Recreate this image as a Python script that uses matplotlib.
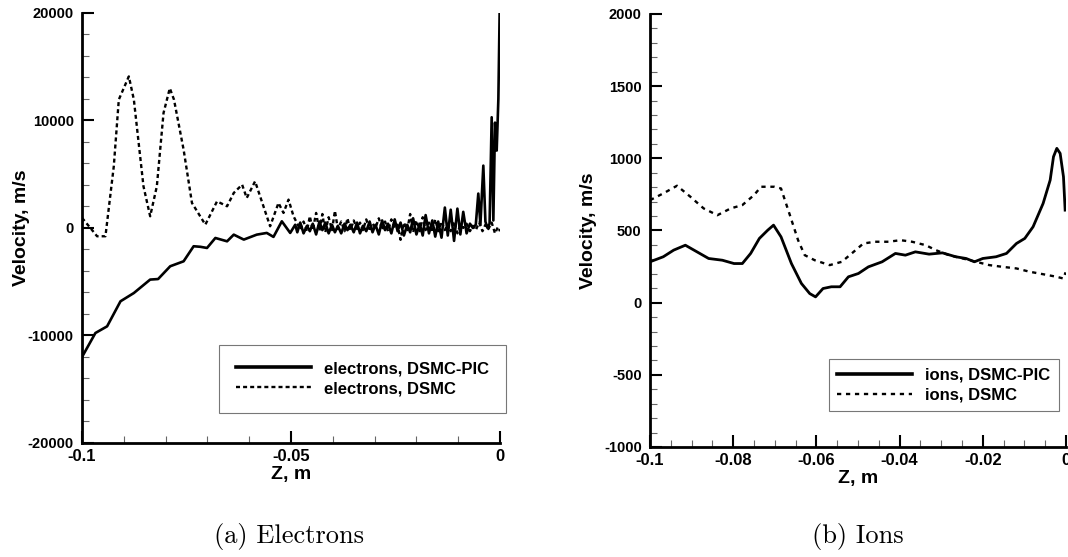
import numpy as np
import matplotlib
matplotlib.use("Agg")
import matplotlib.pyplot as plt
from matplotlib.ticker import MultipleLocator

plt.rcParams["font.family"] = ["Liberation Sans", "DejaVu Sans"]
plt.rcParams["font.weight"] = "bold"

# ---- electrons, DSMC-PIC (solid) ----
z_e_pic = [-0.1, -0.0968, -0.094, -0.0908, -0.0876, -0.0837, -0.0818, -0.0789,
           -0.0757, -0.0733, -0.0717, -0.0701, -0.0681, -0.0653, -0.0637, -0.0613,
           -0.0582, -0.0558, -0.0542, -0.0522, -0.0502,
           -0.0490, -0.0485, -0.0478, -0.0470, -0.0462, -0.0455, -0.0448, -0.0440,
           -0.0432, -0.0425, -0.0418, -0.0410, -0.0402, -0.0395, -0.0388, -0.0380,
           -0.0372, -0.0365, -0.0358, -0.0350, -0.0342, -0.0335, -0.0328, -0.0320,
           -0.0312, -0.0305, -0.0298, -0.0290, -0.0282, -0.0275, -0.0268, -0.0260,
           -0.0252, -0.0245, -0.0238, -0.0230, -0.0222, -0.0215, -0.0208, -0.0200,
           -0.0192, -0.0185, -0.0178, -0.0170, -0.0162, -0.0155, -0.0148, -0.0140,
           -0.0132, -0.0125, -0.0118, -0.0110, -0.0102, -0.0095, -0.0088, -0.0080,
           -0.0072, -0.0065, -0.0058, -0.0052, -0.0047, -0.0040, -0.0035, -0.0030,
           -0.0025, -0.0020, -0.0016, -0.0012, -0.0008, -0.0004, -0.0001]
v_e_pic = [-12000, -9770, -9150, -6820, -6050, -4800, -4750, -3560,
           -3100, -1700, -1750, -1860, -930, -1240, -620, -1080,
           -620, -460, -830, 620, -460,
           300, -400, 500, -500, 200, -300, 400, -600,
           600, -200, 500, -500, 300, -400, 200, -500,
           400, -200, 300, -400, 500, -500, 200, -300,
           600, -400, 300, -600, 700, -200, 400, -500,
           800, -300, 500, -700, 300, -400, 900, -600,
           400, -700, 1200, -500, 700, -800, 600, -900,
           1900, -700, 1700, -1200, 1800, -600, 1500, -500,
           400, 0, 300, 3200, 300, 5800, 600, 0,
           400, 10300, 700, 9800, 7200, 12000, 20000]

# ---- electrons, DSMC (dashed) ----
z_e_dsmc = [-0.1, -0.098, -0.0964, -0.0944, -0.0924, -0.0912, -0.0888, -0.0876,
            -0.0853, -0.0837, -0.0821, -0.0805, -0.079, -0.078, -0.0757, -0.0737,
            -0.0705, -0.0677, -0.0653, -0.0637, -0.0617, -0.0606, -0.0586, -0.0566,
            -0.055, -0.053, -0.0518, -0.0506, -0.0494, -0.0478,
            -0.0470, -0.0462, -0.0455, -0.0448, -0.0440, -0.0432, -0.0425, -0.0418,
            -0.0410, -0.0402, -0.0395, -0.0388, -0.0380, -0.0372, -0.0365, -0.0358,
            -0.0350, -0.0342, -0.0335, -0.0328, -0.0320, -0.0312, -0.0305, -0.0298,
            -0.0290, -0.0282, -0.0275, -0.0268, -0.0260, -0.0252, -0.0245, -0.0238,
            -0.0230, -0.0222, -0.0215, -0.0208, -0.0200, -0.0192, -0.0185, -0.0178,
            -0.0170, -0.0162, -0.0155, -0.0148, -0.0140, -0.0132, -0.0125, -0.0118,
            -0.0110, -0.0102, -0.0095, -0.0088, -0.0080, -0.0072, -0.0065, -0.0058,
            -0.0050, -0.0042, -0.0035, -0.0028, -0.0020, -0.0012, -0.0005, 0.0]
v_e_dsmc = [940, 0, -770, -770, 5740, 11940, 14100, 11940,
            3880, 1090, 3880, 10700, 13000, 11940, 7290, 2330,
            310, 2480, 2020, 3260, 4030, 2790, 4340, 2020,
            160, 2330, 1400, 2640, 1090, -150,
            600, -300, 1100, -200, 1400, -300, 1300, -400,
            1000, -200, 1600, -100, 600, -300, 900, -200,
            700, -100, 500, -200, 800, -300, 400, 0,
            900, -200, 600, -300, 800, 0, 300, -1100,
            500, -200, 1300, -400, 700, -300, 1000, -200,
            500, -400, 800, -300, 600, -200, 400, -300,
            600, -500, 300, 0, 400, -300, 200, -200,
            500, -300, 300, -100, 500, -500, 100, -300]

# ---- ions, DSMC-PIC (solid) ----
z_i_pic = [-0.1, -0.0968, -0.0943, -0.0915, -0.0887, -0.0859, -0.0826, -0.0798,
           -0.0778, -0.0758, -0.0737, -0.0717, -0.0703, -0.0685, -0.066, -0.0636,
           -0.0616, -0.0602, -0.0584, -0.0564, -0.0543, -0.0523, -0.0499, -0.0475,
           -0.0442, -0.041, -0.0386, -0.0362, -0.0329, -0.0297, -0.0265, -0.024,
           -0.022, -0.02, -0.0168, -0.0143, -0.0119, -0.0099, -0.0079, -0.0055,
           -0.0038, -0.003, -0.0022, -0.0014, -0.0006, -0.0002]
v_i_pic = [283, 318, 364, 398, 352, 306, 294, 271,
           271, 341, 445, 502, 537, 456, 271, 133,
           63, 40, 98, 110, 110, 179, 202, 248,
           283, 341, 329, 352, 336, 345, 318, 306,
           283, 306, 318, 341, 410, 445, 526, 687,
           849, 1011, 1069, 1034, 872, 641]

# ---- ions, DSMC (dashed) ----
z_i_dsmc = [-0.1, -0.0968, -0.0935, -0.0903, -0.0871, -0.0838, -0.0806, -0.0778,
            -0.075, -0.0733, -0.0701, -0.0685, -0.0665, -0.0644, -0.0628, -0.0604,
            -0.0568, -0.0539, -0.0515, -0.0487, -0.0459, -0.0426, -0.0398, -0.037,
            -0.0337, -0.0313, -0.0281, -0.0248, -0.0216, -0.0184, -0.0152, -0.0119,
            -0.0087, -0.0055, -0.0022, -0.0006, -0.0001]
v_i_dsmc = [710, 757, 810, 734, 653, 606, 653, 676,
            745, 803, 803, 791, 618, 433, 329, 294,
            260, 283, 341, 410, 422, 422, 433, 422,
            398, 364, 329, 306, 283, 260, 248, 237,
            214, 197, 179, 167, 210]

fig = plt.figure(figsize=(10.68, 5.57), dpi=100)
ax1 = fig.add_axes([0.0768, 0.2047, 0.3914, 0.772])
ax2 = fig.add_axes([0.6086, 0.1975, 0.3895, 0.7774])


def style_axes(ax, ylab_x):
    for s in ("top", "right"):
        ax.spines[s].set_visible(False)
    for s in ("left", "bottom"):
        ax.spines[s].set_linewidth(2.0)
    ax.tick_params(which="major", direction="in", length=8.5, width=1.5,
                   top=False, right=False)
    ax.tick_params(which="minor", direction="in", length=5, width=0.8,
                   color="#666666", top=False, right=False)
    ax.tick_params(axis="y", which="major", labelsize=10.5, pad=6)
    ax.tick_params(axis="x", which="major", labelsize=12, pad=4)
    for lab in ax.get_xticklabels() + ax.get_yticklabels():
        lab.set_fontweight("bold")
    ax.set_xlabel("Z, m", fontsize=14, fontweight="bold", labelpad=2)
    ax.set_ylabel("Velocity, m/s", fontsize=14, fontweight="bold")
    ax.yaxis.set_label_coords(ylab_x, 0.5)


# (a) electrons
ax1.plot(z_e_pic, v_e_pic, color="black", lw=1.9,
         label="electrons, DSMC-PIC")
ax1.plot(z_e_dsmc, v_e_dsmc, color="black", lw=1.7, dashes=(1.7, 1.3),
         label="electrons, DSMC")
ax1.set_xlim(-0.1, 0)
ax1.set_ylim(-20000, 20000)
ax1.xaxis.set_major_locator(MultipleLocator(0.05))
ax1.xaxis.set_minor_locator(MultipleLocator(0.01))
ax1.yaxis.set_major_locator(MultipleLocator(10000))
ax1.yaxis.set_minor_locator(MultipleLocator(2000))
ax1.set_xticks([-0.1, -0.05, 0])
ax1.set_xticklabels(["-0.1", "-0.05", "0"])
ax1.set_yticks([-20000, -10000, 0, 10000, 20000])
ax1.set_yticklabels(["-20000", "-10000", "0", "10000", "20000"])
style_axes(ax1, -0.125)
leg1 = ax1.legend(loc="lower right", bbox_to_anchor=(1.014, 0.07),
                  borderaxespad=0, frameon=True, fancybox=False,
                  handlelength=4.5, handletextpad=0.8, borderpad=1.0,
                  labelspacing=0.3, prop={"size": 12, "weight": "bold"})
leg1.get_frame().set_edgecolor("#555555")
leg1.get_frame().set_linewidth(0.8)
leg1.get_lines()[0].set_linewidth(2.6)

# (b) ions
ax2.plot(z_i_pic, v_i_pic, color="black", lw=2.0, label="ions, DSMC-PIC")
ax2.plot(z_i_dsmc, v_i_dsmc, color="black", lw=1.7, dashes=(1.8, 2.0),
         label="ions, DSMC")
ax2.set_xlim(-0.1, 0)
ax2.set_ylim(-1000, 2000)
ax2.xaxis.set_major_locator(MultipleLocator(0.02))
ax2.xaxis.set_minor_locator(MultipleLocator(0.005))
ax2.yaxis.set_major_locator(MultipleLocator(500))
ax2.yaxis.set_minor_locator(MultipleLocator(100))
ax2.set_xticks([-0.1, -0.08, -0.06, -0.04, -0.02, 0])
ax2.set_xticklabels(["-0.1", "-0.08", "-0.06", "-0.04", "-0.02", "0"])
ax2.set_yticks([-1000, -500, 0, 500, 1000, 1500, 2000])
ax2.set_yticklabels(["-1000", "-500", "0", "500", "1000", "1500", "2000"])
style_axes(ax2, -0.128)
leg2 = ax2.legend(loc="lower right", bbox_to_anchor=(0.983, 0.083),
                  borderaxespad=0, frameon=True, fancybox=False,
                  handlelength=4.5, handletextpad=0.8, borderpad=0.5,
                  labelspacing=0.3, prop={"size": 12, "weight": "bold"})
leg2.get_frame().set_edgecolor("#555555")
leg2.get_frame().set_linewidth(0.8)
leg2.get_lines()[0].set_linewidth(2.6)

# captions
fig.text(289 / 1068, 1 - 537 / 557, "(a) Electrons", fontsize=19,
         family="cmr10", weight="normal", ha="center", va="center")
fig.text(858 / 1068, 1 - 537 / 557, "(b) Ions", fontsize=19,
         family="cmr10", weight="normal", ha="center", va="center")

fig.savefig("out.png", dpi=100)
